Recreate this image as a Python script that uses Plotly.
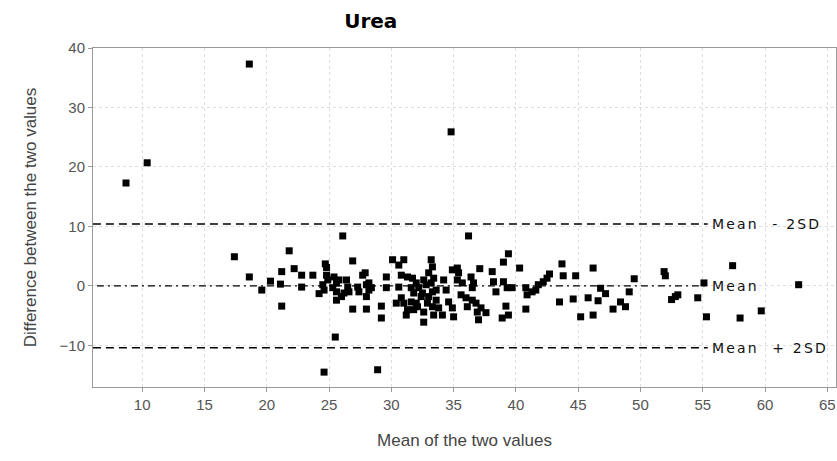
import plotly.graph_objects as go

# Bland-Altman data: mean of two values vs difference between them
mean_vals = [
    8.7, 10.4, 18.6, 34.8, 24.6, 28.9, 25.5, 17.4, 18.6, 19.6, 20.3, 21.1, 21.2, 21.2,
    21.8, 22.2, 22.8, 22.8, 23.7, 24.2, 24.7, 24.8, 24.8, 24.6, 24.5, 24.9,
    25.4, 25.8, 25.6, 25.3, 25.6, 25.6, 26.0, 26.2, 26.4, 26.5, 26.6, 26.1, 26.9,
    27.3, 27.4, 27.7, 27.9, 28.0, 28.2, 28.2, 28.4, 28.0, 26.9, 28.0, 29.2, 29.2,
    29.6, 29.6,
    30.1, 30.6, 31.0, 30.8, 30.6, 30.4, 30.8, 31.0, 31.3, 31.3, 31.2,
    31.7, 32.0, 31.6, 32.2, 31.8, 32.4, 31.6, 32.0, 31.8, 32.1, 32.6, 32.8, 32.5,
    33.0, 32.9, 32.6, 32.6, 33.2, 33.3, 33.0, 33.4, 33.2, 33.6, 33.3, 33.6, 33.3,
    33.8, 33.4, 34.1, 34.2, 34.4, 34.6, 34.9, 35.0, 34.9, 35.3, 35.4, 35.3, 35.7,
    35.6, 36.0, 36.1, 36.2, 36.4, 36.6, 36.5, 36.8, 36.9,
    37.1, 37.0, 37.6, 37.2, 36.5, 38.1, 38.2, 38.4, 39.0, 39.3, 39.7, 39.0, 39.4,
    39.2, 39.4, 38.9, 40.3, 40.8, 40.9, 41.3, 41.6, 40.8, 41.8, 42.2, 42.5, 42.7,
    43.7, 43.8, 44.8, 43.5, 44.6, 45.2, 46.2, 45.8, 46.6, 46.2, 46.8, 47.2, 47.8,
    48.4, 48.8, 49.1, 49.5, 51.9, 52.0, 52.5, 52.8, 53.0, 54.6, 55.1, 55.3, 57.4,
    58.0, 59.7, 62.7,
]
diff_vals = [
    17.3, 20.7, 37.3, 25.9, -14.5, -14.1, -8.6, 4.9, 1.5, -0.7, 0.8, 0.3, 2.4, -3.4,
    5.9, 2.9, 1.8, -0.2, 1.8, -1.3, 3.7, 3.1, 1.8, -0.7, 0.2, 1.0,
    1.5, 1.0, 0.5, -0.3, -1.0, -2.4, -1.8, -1.2, 1.0, -0.2, -1.0, 8.4, 4.2,
    -0.2, -1.0, 1.8, 2.2, 0.2, 0.5, -0.7, -0.3, -1.8, -3.9, -3.9, -3.4, -5.4,
    1.5, -0.3,
    4.4, 3.5, 4.4, 1.8, -0.2, -2.9, -2.0, -2.9, 1.5, -4.0, -4.9,
    1.3, 0.5, -0.3, -0.3, -1.2, -1.8, -2.7, -2.9, -4.0, -3.5, 1.0, 0.2, -1.2,
    -1.8, -2.9, -4.4, -6.1, 4.4, 3.2, 2.2, 1.3, 0.5, -0.7, -1.0, -2.4, -3.5,
    -3.7, -4.9, -4.9, 1.0, -0.7, -2.7, -3.7, -5.2, 2.7, 3.0, 2.2, 1.0, 0.5,
    -1.5, -2.0, -3.5, 8.4, 1.5, 0.5, -0.3, -2.9, -4.4,
    2.9, -5.7, -4.5, -3.7, -2.4, 2.4, 0.7, -1.0, 0.7, -0.3, -0.3, 4.0, 5.4,
    -3.4, -4.9, -5.4, 3.0, -0.3, -1.5, -1.0, -0.7, -3.9, 0.2, 0.7, 1.3, 2.0,
    3.7, 1.7, 1.7, -2.7, -2.2, -5.2, 3.0, -2.0, -2.5, -4.9, -0.4, -1.3, -3.9,
    -2.7, -3.5, -1.0, 1.2, 2.4, 1.7, -2.3, -1.8, -1.5, -2.0, 0.5, -5.2, 3.4,
    -5.4, -4.2, 0.2,
]

mean_diff = 0.0
upper_limit = 10.4
lower_limit = -10.4
line_end = 55.4

fig = go.Figure(go.Scatter(
    x=mean_vals, y=diff_vals, mode='markers',
    marker=dict(symbol='square', size=7, color='black', line=dict(width=0)),
    showlegend=False, hoverinfo='x+y'))

fig.add_shape(type='line', xref='x', yref='y', x0=5, x1=line_end, y0=upper_limit, y1=upper_limit,
              line=dict(color='black', width=1.5, dash='8px,5px'))
fig.add_shape(type='line', xref='x', yref='y', x0=5, x1=line_end, y0=lower_limit, y1=lower_limit,
              line=dict(color='black', width=1.5, dash='8px,5px'))
fig.add_shape(type='line', xref='x', yref='y', x0=5, x1=line_end, y0=mean_diff, y1=mean_diff,
              line=dict(color='black', width=1.2, dash='7px,4px,2px,4px'))

label_font = dict(family='DejaVu Sans', size=14, color='#111')
for y, txt in [(upper_limit, 'Mean  - 2SD'), (mean_diff, 'Mean'), (lower_limit, 'Mean  + 2SD')]:
    fig.add_annotation(x=line_end, y=y, xref='x', yref='y',
                       text='<span style="letter-spacing:2.2px">' + txt + '</span>',
                       showarrow=False, xanchor='left', yanchor='middle', xshift=2, font=label_font)

axis_common = dict(
    showline=True, linecolor='#999', linewidth=1, mirror=True,
    showgrid=True, gridcolor='#dedede', griddash='3px,3px', gridwidth=1,
    ticks='outside', ticklen=4, tickcolor='#999',
    zeroline=False, automargin=False,
    tickfont=dict(family='Liberation Sans', size=15, color='#555'),
)

fig.update_xaxes(range=[6.05, 65.7], tickvals=list(range(10, 70, 5)),
                 title=dict(text='Mean of the two values', standoff=22,
                            font=dict(family='Liberation Sans', size=17, color='#444')),
                 **axis_common)
fig.update_yaxes(range=[-17, 40], tickvals=[-10, 0, 10, 20, 30, 40],
                 title=dict(text='Difference between the two values', standoff=18,
                            font=dict(family='Liberation Sans', size=17, color='#444')),
                 **axis_common)

fig.update_layout(
    width=837, height=461,
    margin=dict(l=93, r=1, t=48, b=74),
    paper_bgcolor='white', plot_bgcolor='white',
    title=dict(text='<b>Urea</b>', x=0.443, xanchor='center', y=0.955, yanchor='middle',
               font=dict(family='DejaVu Sans', size=20, color='black')),
)

# the page's default body margin would shift the figure by 8px
fig.write_html("out.html", config={'displayModeBar': False},
               post_script="document.body.style.margin='0';")
